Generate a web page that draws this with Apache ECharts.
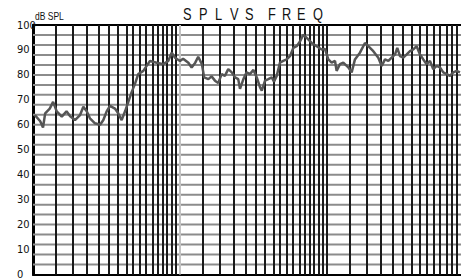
<!DOCTYPE html>
<html>
<head>
<meta charset="utf-8">
<script src="https://cdn.jsdelivr.net/npm/echarts@6/dist/echarts.min.js"></script>
<style>
  html, body { margin: 0; background: #fff; }
  #chart { width: 461px; height: 280px; }
</style>
</head>
<body>
<div id="chart"></div>
<script>
// frequency (Hz) and level (dB SPL)
const freqs = [
  10.3, 11.2, 11.7, 12.1, 13.0, 13.7, 14.5, 15.7, 16.9, 17.9,
  19.3, 20.9, 22.0, 23.2, 24.4, 26.4, 28.6, 30.1, 31.7, 33.4,
  36.1, 38.0, 40.1, 42.3, 44.5, 46.9, 49.4, 52.0, 56.3, 59.3,
  62.5, 69.4, 76.9, 83.2, 87.8, 92.5, 100, 105, 114, 120,
  127, 133, 141, 146, 156, 164, 173, 182, 192, 202,
  213, 225, 237, 249, 256, 270, 284, 299, 316, 333,
  350, 360, 379, 399, 421, 436, 455, 479, 504, 532,
  560, 590, 622, 655, 691, 728, 787, 851, 920, 969,
  1021, 1076, 1134, 1163, 1225, 1291, 1396, 1472, 1550, 1676,
  1813, 1910, 2066, 2234, 2356, 2481, 2615, 2754, 2903, 3008,
  3138, 3306, 3485, 3671, 3866, 4074, 4293, 4522, 4766, 5020,
  5288, 5572, 5870, 6183, 6516, 6866, 7232, 7621, 8031
]
const spl = [
  63.9, 61.4, 58.9, 64.6, 66.5, 69.2, 65.4, 63.3, 65.4, 63.4,
  61.9, 63.9, 67.2, 65.4, 62.6, 60.6, 60.0, 61.9, 65.4, 67.6,
  66.5, 64.6, 61.9, 65.4, 69.2, 73.1, 76.4, 80.3, 81.6, 83.6,
  85.6, 84.9, 84.3, 85.6, 88.9, 86.9, 85.6, 86.5, 84.9, 83.0,
  84.9, 87.3, 84.3, 79.0, 78.3, 79.4, 77.7, 76.7, 80.3, 79.6,
  82.3, 81.0, 79.0, 78.3, 74.4, 78.3, 81.0, 80.3, 82.0, 79.0,
  75.1, 73.7, 77.7, 78.3, 79.0, 77.3, 79.6, 84.9, 85.6, 86.2,
  87.5, 90.8, 91.5, 93.4, 96.1, 94.8, 92.8, 91.5, 90.2, 90.4,
  86.2, 84.9, 85.6, 81.6, 84.3, 84.9, 83.0, 81.0, 86.2, 88.9,
  92.8, 91.5, 89.5, 86.9, 83.6, 86.2, 85.6, 86.9, 88.2, 90.8,
  87.5, 86.9, 88.2, 89.5, 90.2, 91.5, 88.2, 86.2, 84.3, 85.6,
  82.3, 83.6, 83.0, 81.0, 80.3, 79.6, 81.0, 81.6, 81.0
]

// chart paper: vertical lines inside each decade, horizontal lines every 4 dB
const gridSteps = [1.42, 1.86, 2.32, 2.78, 3.29, 3.79, 4.31, 4.80, 5.32, 5.89, 6.52, 7.08, 7.69, 8.19, 8.79, 9.42]
const decades = [10, 100, 1000]
const freqMin = 10
const freqMax = 8161
const dbStep = 4

const titleLetters = ['S', 'P', 'L', 'V', 'S', 'F', 'R', 'E', 'Q']
const titleX = [183, 199, 215, 230, 245, 268, 282, 297, 313]

const sans = "'Liberation Sans', Arial, sans-serif"
const narrow = "'Liberation Sans Narrow', 'DejaVu Sans Condensed', sans-serif"

const chart = echarts.init(document.getElementById('chart'), null, { renderer: 'svg' })

const vLines = []
decades.forEach(d => {
  gridSteps.forEach(s => {
    const f = d * s
    if (f < freqMax) vLines.push({ xAxis: f })
  })
  if (d > freqMin) {
    vLines.push({ xAxis: d, lineStyle: { color: d === 100 ? '#c4c4c4' : '#1a1a1a' } })
  }
})

// horizontal paper lines: [from freq, level, to freq]
const hLevels = []
for (let v = dbStep; v < 100; v += dbStep) hLevels.push([freqMin, v, freqMax])

const logX = pos => ({
  type: 'log',
  logBase: 10,
  min: freqMin,
  max: freqMax,
  position: pos,
  axisLine: { show: true, lineStyle: { color: '#000', width: 2 } },
  axisTick: { show: false },
  axisLabel: { show: false },
  splitLine: { show: false },
})

chart.setOption({
  animation: false,
  backgroundColor: '#fff',
  grid: { left: 33, right: 0, top: 25, bottom: 1 },
  xAxis: [logX('bottom'), logX('top')],
  yAxis: {
    type: 'value',
    min: 0, max: 100, interval: 10,
    axisLine: { show: true, lineStyle: { color: '#000', width: 3 } },
    axisTick: { show: false },
    splitLine: { show: false },
    axisLabel: {
      align: 'left', margin: 16, color: '#111',
      fontSize: 11, fontFamily: narrow, padding: [3, 0, 0, 0],
    },
  },
  graphic: [
    {
      type: 'text', x: 35, y: 17, scaleX: 0.85,
      style: { text: 'dB SPL', fill: '#111', font: '10px ' + sans, verticalAlign: 'middle' },
    },
    ...titleLetters.map((ch, i) => ({
      type: 'text', x: titleX[i], y: 14, scaleX: 0.8,
      style: { text: ch, fill: '#111', font: '16px ' + sans, verticalAlign: 'middle' },
    })),
  ],
  series: [
    {
      type: 'custom',
      z: 1,
      silent: true,
      data: hLevels,
      encode: { x: [0, 2], y: 1 },
      renderItem: (params, api) => {
        const y = api.value(1)
        const a = api.coord([api.value(0), y])
        const b = api.coord([api.value(2), y])
        return {
          type: 'line',
          shape: { x1: a[0], y1: a[1], x2: b[0], y2: b[1] },
          style: { stroke: '#8c8c8c', lineWidth: 2 },
        }
      },
    },
    {
      type: 'line',
      z: 2,
      data: [],
      markLine: {
        z: 2,
        silent: true,
        symbol: 'none',
        label: { show: false },
        lineStyle: { color: '#1a1a1a', width: 2, type: 'solid' },
        data: vLines,
      },
    },
    {
      type: 'line',
      z: 3,
      data: freqs.map((f, i) => [f, spl[i]]),
      showSymbol: false,
      lineStyle: { color: '#555', width: 2.5 },
    },
  ],
})
</script>
</body>
</html>
